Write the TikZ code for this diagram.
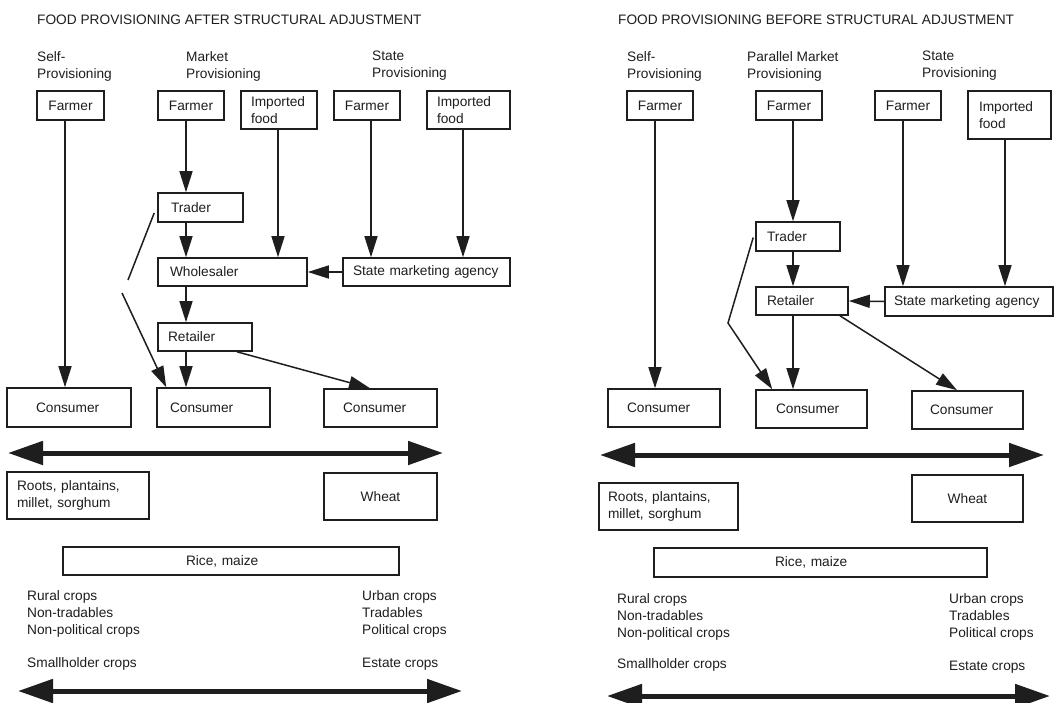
\documentclass[tikz,border=0pt]{standalone}
\usepackage{fontspec}
\setmainfont{Liberation Sans}
\usetikzlibrary{arrows.meta}
\newcommand\lab{\fontsize{13.7}{17}\selectfont}
% #1 name, #2 x1, #3 y1, #4 x2, #5 y2, #6 pad, #7 align, #8 text
\newcommand\bxn[8]{\node[bx, inner xsep=#6pt, text width={(#4-#2-2*#6)*1pt},
  minimum height={(#5-#3)*1pt}, align=#7] (#1) at ({(#2+#4)/2},{(#3+#5)/2}) {#8};}
\definecolor{ink}{HTML}{1E1E1E}
\tikzset{
  bx/.style={draw=ink, text=ink, line width=1.6pt, inner ysep=0pt, font=\lab},
  arr/.style={draw=ink, line width=1.5pt, -{Triangle[length=21pt,width=13pt]}},
  ln/.style={draw=ink, line width=1.5pt},
  big/.style={draw=ink, line width=5pt, {Triangle[length=35pt,width=23pt]}-{Triangle[length=35pt,width=23pt]}},
  lbl/.style={inner sep=0pt, font=\lab, text=ink, align=left, anchor=west},
}
\begin{document}
\begin{tikzpicture}[x=1pt,y=-1pt]
\useasboundingbox[fill=white] (0,0) rectangle (1060,702);
\clip (0,0) rectangle (1060,702);

% ================= LEFT PANEL =================
\node[lbl] (titleA) at (37,20) {FOOD PROVISIONING AFTER STRUCTURAL ADJUSTMENT};
\node[lbl] (hA1) at (37,66) {Self-\\Provisioning};
\node[lbl] (hA2) at (186,66) {Market\\Provisioning};
\node[lbl] (hA3) at (372,66) {State\\Provisioning};

\bxn{fA1}{37}{91}{104}{120}{4}{center}{Farmer}
\bxn{fA2}{158}{91}{224}{120}{4}{center}{Farmer}
\bxn{iA1}{241}{91}{317}{129}{10}{left}{Imported\\food}
\bxn{fA3}{334}{91}{400}{120}{4}{center}{Farmer}
\bxn{iA2}{427}{91}{510}{129}{10}{left}{Imported\\food}
\bxn{tA}{158}{193}{243}{222}{13}{left}{Trader}
\bxn{wA}{158}{258}{307}{286}{12}{left}{Wholesaler}
\bxn{sA}{343}{258}{510}{286}{10}{left}{State marketing agency}
\bxn{rA}{158}{323}{252}{351}{10}{left}{Retailer}
\bxn{cA1}{7}{388}{131}{427}{29}{left}{Consumer}
\bxn{cA2}{157}{388}{270}{427}{13}{left}{Consumer}
\bxn{cA3}{324}{389}{437}{427}{19}{left}{Consumer}

\draw[arr] ([xshift=-5.5pt]fA1.south) -- ([xshift=-4pt]cA1.north);
\draw[arr] ([xshift=-5pt]fA2.south) -- ([xshift=-14.5pt]tA.north);
\draw[arr] ([xshift=-14.5pt]tA.south) -- ([xshift=-46.5pt]wA.north);
\draw[arr] ([xshift=-1pt]iA1.south) -- ([xshift=45.5pt]wA.north);
\draw[arr] ([xshift=4pt]fA3.south) -- ([xshift=-55.5pt]sA.north);
\draw[arr] ([xshift=-5.5pt]iA2.south) -- ([xshift=36.5pt]sA.north);
\draw[arr] (sA.west) -- (wA.east);
\draw[arr] ([xshift=-46.5pt]wA.south) -- ([xshift=-19pt]rA.north);
\draw[arr] ([xshift=-19pt]rA.south) -- ([xshift=-27.5pt]cA2.north);
\draw[arr] ([xshift=32pt]rA.south) -- ([xshift=-10.5pt]cA3.north);
\coordinate (kA1) at (128,280);
\coordinate (kA2) at (122,293);
\draw[ln] ([xshift=-3pt,yshift=-5.5pt]tA.west) -- (kA1);
\draw[arr] (kA2) -- ([xshift=10pt]cA2.north west);

\coordinate (bA1) at (8,453);
\coordinate (bA2) at (443,453);
\draw[big] (bA1) -- (bA2);

\bxn{roA}{7}{472}{149}{519}{10}{left}{Roots, plantains,\\millet, sorghum}
\bxn{whA}{324}{473}{437}{520}{4}{center}{Wheat}
\bxn{riA}{63}{547}{399}{575}{123}{left}{Rice, maize}

\node[lbl] (ruA) at (27,614) {Rural crops\\Non-tradables\\Non-political crops};
\node[lbl] (urA) at (362,614) {Urban crops\\Tradables\\Political crops};
\node[lbl] (smA) at (27,664) {Smallholder crops};
\node[lbl] (esA) at (362,664) {Estate crops};

\coordinate (dA1) at (18,691);
\coordinate (dA2) at (462,691);
\draw[big] (dA1) -- (dA2);

% ================= RIGHT PANEL =================
\node[lbl] (titleB) at (618,20) {FOOD PROVISIONING BEFORE STRUCTURAL ADJUSTMENT};
\node[lbl] (hB1) at (627,66) {Self-\\Provisioning};
\node[lbl] (hB2) at (747,66) {Parallel Market\\Provisioning};
\node[lbl] (hB3) at (922,66) {State\\Provisioning};

\bxn{fB1}{627}{91}{693}{120}{4}{center}{Farmer}
\bxn{fB2}{756}{91}{822}{120}{4}{center}{Farmer}
\bxn{fB3}{875}{91}{941}{120}{4}{center}{Farmer}
\bxn{iB}{968}{91}{1051}{139}{11}{left}{Imported\\food}
\bxn{tB}{756}{222}{840}{251}{11}{left}{Trader}
\bxn{rB}{756}{287}{848}{315}{11}{left}{Retailer}
\bxn{sB}{885}{287}{1053}{316}{9}{left}{State marketing agency}
\bxn{cB1}{608}{389}{720}{427}{19}{left}{Consumer}
\bxn{cB2}{756}{390}{867}{428}{20}{left}{Consumer}
\bxn{cB3}{912}{391}{1023}{429}{18}{left}{Consumer}

\draw[arr] ([xshift=-5pt]fB1.south) -- ([xshift=-9pt]cB1.north);
\draw[arr] ([xshift=4pt]fB2.south) -- ([xshift=-5pt]tB.north);
\draw[arr] ([xshift=-5pt]tB.south) -- ([xshift=-9pt]rB.north);
\draw[arr] ([xshift=-5pt]fB3.south) -- ([xshift=-66pt]sB.north);
\draw[arr] ([xshift=-4.5pt]iB.south) -- ([xshift=36pt]sB.north);
\draw[arr] (sB.west) -- (rB.east);
\draw[arr] ([xshift=-9pt]rB.south) -- ([xshift=-18.5pt]cB2.north);
\draw[arr] ([xshift=38pt]rB.south) -- ([xshift=-10.5pt]cB3.north);
\coordinate (kB) at (728,323);
\draw[arr] ([xshift=-2pt,yshift=-1pt]tB.west) -- (kB) -- ([xshift=17pt]cB2.north west);

\coordinate (bB1) at (600,455);
\coordinate (bB2) at (1044,455);
\draw[big] (bB1) -- (bB2);

\bxn{roB}{599}{483}{738}{530}{9}{left}{Roots, plantains,\\millet, sorghum}
\bxn{whB}{912}{475}{1023}{522}{4}{center}{Wheat}
\bxn{riB}{654}{548}{987}{577}{121}{left}{Rice, maize}

\node[lbl] (ruB) at (617,617) {Rural crops\\Non-tradables\\Non-political crops};
\node[lbl] (urB) at (949,617) {Urban crops\\Tradables\\Political crops};
\node[lbl] (smB) at (617,665) {Smallholder crops};
\node[lbl] (esB) at (949,667) {Estate crops};

\coordinate (dB1) at (607,696);
\coordinate (dB2) at (1050,696);
\draw[big] (dB1) -- (dB2);
\end{tikzpicture}
\end{document}
